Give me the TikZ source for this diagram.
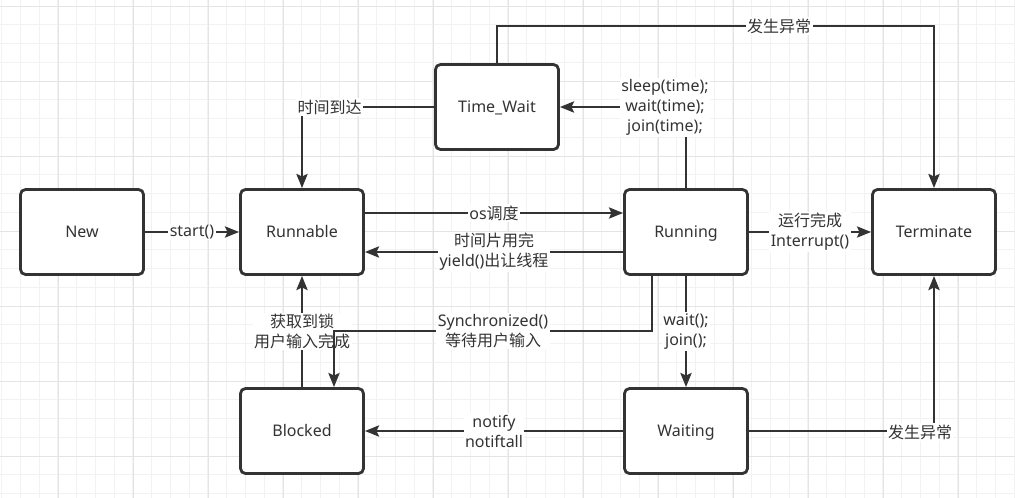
\documentclass[tikz,border=0pt]{standalone}
\usepackage{fontspec}
\setmainfont{Noto Sans}
\newfontfamily\cjk{Noto Sans CJK SC}
\usetikzlibrary{arrows.meta,calc}
\definecolor{ink}{HTML}{333333}
\definecolor{gminor}{HTML}{F2F2F2}
\definecolor{gmajor}{HTML}{E4E4E4}
\begin{document}
\begin{tikzpicture}[x=1pt,y=-1pt,
  box/.style={draw=ink, line width=2.8pt, rounded corners=5pt, fill=white,
    minimum width=123pt, minimum height=85pt, text=ink,
    text height=13.7pt, text depth=2.3pt,
    font=\fontsize{16}{20}\selectfont},
  arr/.style={draw=ink, line width=2.8pt,
    -{Stealth[length=14pt,width=11pt,inset=2.5pt]}},
  lbl/.style={fill=white, text=ink, font=\fontsize{16}{20}\selectfont,
    align=center, inner sep=1.5pt},
]
\fill[white] (0,0) rectangle (1015,498);
\useasboundingbox (0,0) rectangle (1015,498);
% grid
\foreach \k in {0,...,54} \draw[gminor, line width=1pt] ({1.7+18.75*\k},0) -- ({1.7+18.75*\k},498);
\foreach \k in {0,...,26} \draw[gminor, line width=1pt] (0,{6.2+18.75*\k}) -- (1015,{6.2+18.75*\k});
\foreach \k in {0,...,12} \draw[gmajor, line width=1pt] ({58.3+75*\k},0) -- ({58.3+75*\k},498);
\foreach \k in {0,...,6} \draw[gmajor, line width=1pt] (0,{6.2+75*\k}) -- (1015,{6.2+75*\k});

% nodes
\node[box] (new)  at (82,232)  {New};
\node[box] (rnb)  at (302,232) {Runnable};
\node[box] (tw)   at (497,107) {Time\_Wait};
\node[box] (run)  at (686,232) {Running};
\node[box] (term) at (934,232) {Terminate};
\node[box] (blk)  at (302,431) {Blocked};
\node[box] (wait) at (686,431) {Waiting};

\coordinate (topy) at (0,26);
\coordinate (s1) at (652,331);
\coordinate (s2) at (334,331);

% edges
\draw[arr] (new) -- node[lbl] (lstart) {start()} (rnb);
\draw[arr] ([yshift=19pt]rnb.east) -- node[lbl] (los) {os{\cjk 调度}} ([yshift=19pt]rnb.east -| run.west);
\draw[arr] ([yshift=-20pt]run.west) -- node[lbl] (lyield) {{\cjk 时间片用完}\\yield(){\cjk 出让线程}} ([yshift=-20pt]run.west -| rnb.east);
\draw[arr] (run.north) |- (tw.east);
\node[lbl] (lsleep) at (665,107) {sleep(time);\\wait(time);\\join(time);};
\draw[arr] (tw.west) -| (rnb.north);
\node[lbl] (lreach) at (329.5,107) {\cjk 时间到达};
\draw[arr] (tw.north) |- (topy -| term.north) -- (term.north);
\node[lbl] (lexc1) at (779,26) {\cjk 发生异常};
\draw[arr] (run) -- node[lbl] (ldone) {{\cjk 运行完成}\\Interrupt()} (term);
\draw[arr] (blk) -- node[lbl] (llock) {{\cjk 获取到锁}\\{\cjk 用户输入完成}} (rnb);
\draw[arr] (run.south -| s1) -- (s1) -- node[lbl] (lsync) {Synchronized()\\{\cjk 等待用户输入}} (s2) -- (blk.north -| s2);
\draw[arr] (run) -- node[lbl] (lwait) {wait();\\join();} (wait);
\draw[arr] (wait) -- node[lbl] (lnotify) {notify\\notiftall} (blk);
\draw[arr] (wait.east) -| (term.south);
\node[lbl] (lexc2) at (920,432) {\cjk 发生异常};
\end{tikzpicture}
\end{document}
